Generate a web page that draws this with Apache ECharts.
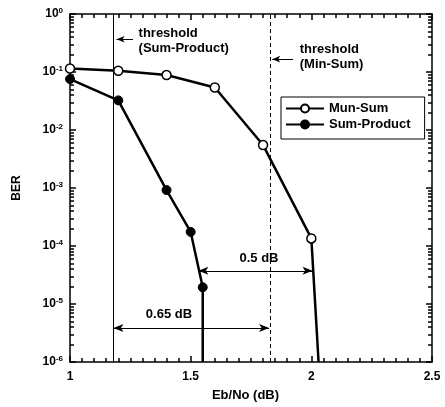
<!DOCTYPE html>
<html>
<head>
<meta charset="utf-8">
<script src="https://cdn.jsdelivr.net/npm/echarts@6/dist/echarts.min.js"></script>
<style>
html, body { margin: 0; padding: 0; background: #fff; }
#chart { width: 445px; height: 407px; }
</style>
</head>
<body>
<div id="chart"></div>
<script>
// BER curves
var minSumEbno = [1, 1.2, 1.4, 1.6, 1.8, 2.0, 2.03];
var minSumBer = [0.115, 0.105, 0.0885, 0.054, 0.0055, 1.35e-4, 1e-6];
var sumProdEbno = [1, 1.2, 1.4, 1.5, 1.55, 1.55];
var sumProdBer = [0.0755, 0.0324, 9.2e-4, 1.75e-4, 1.94e-5, 1e-6];

var thresholdSumProduct = 1.18;
var thresholdMinSum = 1.83;

var xTicks = [1, 1.5, 2, 2.5];
var yDecades = [-6, -5, -4, -3, -2, -1, 0];

var FONT = "'Liberation Sans', Arial, sans-serif";
var TICK = '#000';

var yMajor = [];
var yMinor = [];
for (var i = 0; i < yDecades.length; i++) {
    yMajor.push(Math.pow(10, yDecades[i]));
    if (yDecades[i] < 0) {
        for (var k = 2; k <= 9; k++) {
            yMinor.push(k * Math.pow(10, yDecades[i]));
        }
    }
}

function pairs(xs, ys) {
    var out = [];
    for (var i = 0; i < xs.length; i++) out.push([xs[i], ys[i]]);
    return out;
}

function yLabel(v) {
    var e = Math.round(Math.log10(v));
    return '{b|10}{s|' + e + '}';
}

function xAxisCfg(pos, showLabel) {
    return {
        type: 'value', position: pos, min: xTicks[0], max: xTicks[xTicks.length - 1], interval: 0.5,
        axisLine: { show: true, onZero: false, lineStyle: { color: '#000', width: 1.5 } },
        axisTick: { show: true, inside: true, length: 6, lineStyle: { color: TICK, width: 1.5 } },
        minorTick: { show: true, splitNumber: 10, length: 4, lineStyle: { color: TICK, width: 1.5 } },
        splitLine: { show: false },
        axisLabel: {
            show: showLabel, color: '#000', fontFamily: FONT, fontWeight: 'bold', fontSize: 12, margin: 9
        }
    };
}

function yAxisCfg(pos, minor, showLabel) {
    var c = {
        type: 'log', logBase: 10, position: pos, min: 1e-6, max: 1,
        axisLine: { show: !minor, lineStyle: { color: '#000', width: 1.5 } },
        axisTick: {
            show: true, inside: true, length: minor ? 4 : 6,
            customValues: minor ? yMinor : yMajor,
            lineStyle: { color: TICK, width: 1.5 }
        },
        splitLine: { show: false },
        axisLabel: { show: false }
    };
    if (showLabel) {
        c.axisLabel = {
            show: true, margin: 7,
            formatter: yLabel,
            rich: {
                b: { fontFamily: FONT, fontWeight: 'bold', fontSize: 12, color: '#000', lineHeight: 14 },
                s: { fontFamily: FONT, fontWeight: 'bold', fontSize: 8, color: '#000', verticalAlign: 'top' }
            }
        };
        c.name = 'BER';
        c.nameLocation = 'middle';
        c.nameGap = 47;
        c.nameRotate = 90;
        c.nameTextStyle = { fontFamily: FONT, fontWeight: 'bold', fontSize: 12, color: '#000' };
    }
    return c;
}

var bottomX = xAxisCfg('bottom', true);
bottomX.name = 'Eb/No (dB)';
bottomX.nameLocation = 'middle';
bottomX.nameGap = 27;
bottomX.nameTextStyle = { fontFamily: FONT, fontWeight: 'bold', fontSize: 13, color: '#000', padding: [0, 11, 0, 0] };

var textStyleAnno = { color: '#000', fontFamily: FONT, fontWeight: 'bold', fontSize: 13, lineHeight: 15 };

var myChart = echarts.init(document.getElementById('chart'));

var option = {
    animation: false,
    grid: { left: 70, top: 14, right: 13, bottom: 44 },
    xAxis: [bottomX, xAxisCfg('top', false)],
    yAxis: [
        yAxisCfg('left', false, true),
        yAxisCfg('left', true, false),
        yAxisCfg('right', false, false),
        yAxisCfg('right', true, false)
    ],
    legend: {
        data: ['Mun-Sum', 'Sum-Product'],
        orient: 'vertical',
        left: 281, top: 97,
        itemWidth: 38, itemHeight: 10, itemGap: 3,
        padding: [5, 14, 8, 4],
        borderColor: '#000', borderWidth: 1, borderRadius: 0,
        backgroundColor: '#fff',
        textStyle: { color: '#000', fontFamily: FONT, fontWeight: 'bold', fontSize: 13 }
    },
    series: [
        {
            name: 'Mun-Sum',
            type: 'line',
            data: pairs(minSumEbno, minSumBer),
            symbol: 'circle',
            symbolSize: function (v, p) { return p.dataIndex === minSumEbno.length - 1 ? 0 : 9; },
            lineStyle: { color: '#000', width: 2.5 },
            itemStyle: { color: '#fff', borderColor: '#000', borderWidth: 1.5 },
            z: 5
        },
        {
            name: 'Sum-Product',
            type: 'line',
            data: pairs(sumProdEbno, sumProdBer),
            symbol: 'circle',
            symbolSize: function (v, p) { return p.dataIndex === sumProdEbno.length - 1 ? 0 : 9; },
            lineStyle: { color: '#000', width: 2.5 },
            itemStyle: { color: '#000', borderColor: '#000', borderWidth: 1 },
            z: 5
        },
        {
            name: 'annotations',
            type: 'line',
            data: [],
            silent: true,
            markLine: {
                silent: true,
                symbol: 'none',
                label: { show: false },
                lineStyle: { color: '#000', width: 1, type: 'solid' },
                data: [
                    { xAxis: thresholdSumProduct },
                    { xAxis: thresholdMinSum, lineStyle: { type: [4, 3] } },
                    [
                        { coord: [thresholdSumProduct, 3.87e-6], symbol: 'arrow', symbolSize: [6, 10] },
                        { coord: [1.825, 3.87e-6], symbol: 'arrow', symbolSize: [6, 10] }
                    ],
                    [
                        { coord: [1.532, 3.73e-5], symbol: 'arrow', symbolSize: [6, 10] },
                        { coord: [2.005, 3.73e-5], symbol: 'arrow', symbolSize: [6, 10] }
                    ],
                    [
                        { coord: [1.261, 0.367], symbol: 'none' },
                        { coord: [1.193, 0.367], symbol: 'arrow', symbolSize: [5, 8] }
                    ],
                    [
                        { coord: [1.924, 0.1667], symbol: 'none' },
                        { coord: [1.838, 0.1667], symbol: 'arrow', symbolSize: [5, 8] }
                    ]
                ]
            },
            markPoint: {
                silent: true,
                symbol: 'circle',
                symbolSize: 1,
                itemStyle: { color: 'rgba(0,0,0,0)' },
                data: [
                    { coord: [1.282, 0.35], label: Object.assign({ show: true, position: 'right', distance: 0, formatter: 'threshold\n(Sum-Product)' }, textStyleAnno) },
                    { coord: [1.95, 0.179], label: Object.assign({ show: true, position: 'right', distance: 0, formatter: 'threshold\n(Min-Sum)' }, textStyleAnno) },
                    { coord: [1.783, 6.1e-5], label: Object.assign({ show: true, position: 'inside', formatter: '0.5 dB' }, textStyleAnno) },
                    { coord: [1.41, 6.55e-6], label: Object.assign({ show: true, position: 'inside', formatter: '0.65 dB' }, textStyleAnno) }
                ]
            }
        }
    ]
};

myChart.setOption(option);
</script>
</body>
</html>
